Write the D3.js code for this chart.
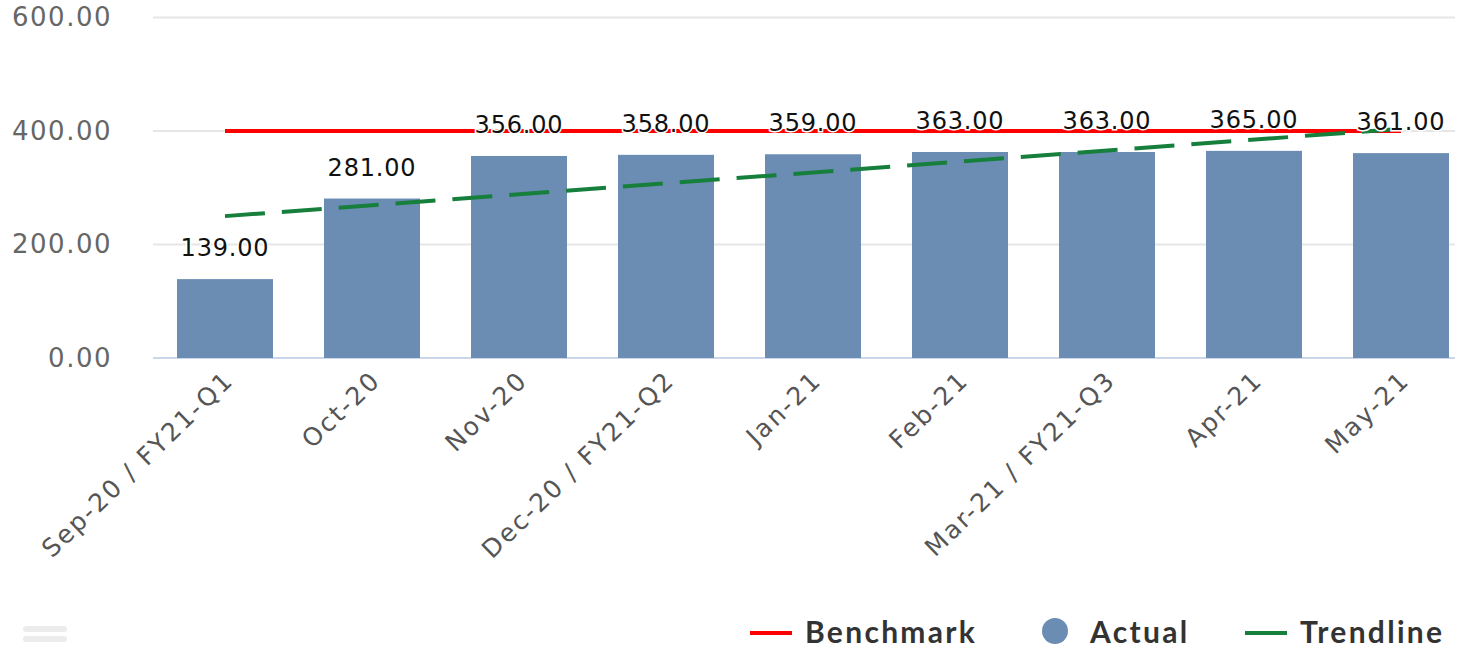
<!DOCTYPE html>
<html>
<head>
<meta charset="utf-8">
<script src="https://cdn.jsdelivr.net/npm/d3@7"></script>
<style>
  html, body { margin: 0; padding: 0; background: #fff; }
  svg { display: block; }
</style>
</head>
<body>
<div id="chart"></div>
<script>
const categories = ['Sep-20 / FY21-Q1', 'Oct-20', 'Nov-20', 'Dec-20 / FY21-Q2', 'Jan-21', 'Feb-21', 'Mar-21 / FY21-Q3', 'Apr-21', 'May-21'];
const actual = [139, 281, 356, 358, 359, 363, 363, 365, 361];
const benchmark = [400, 400, 400, 400, 400, 400, 400, 400, 400];
// trendline at first and last month
const trendline = [250, 404];
const yTicks = [0, 200, 400, 600];

const width = 1462;
const height = 648;

const svg = d3.select('#chart').append('svg')
  .attr('width', width)
  .attr('height', height);

const xScale = d3.scaleBand()
  .domain(categories)
  .range([151.5, 1474.5])
  .paddingInner(0.347)
  .paddingOuter(0.1735);

const yScale = d3.scaleLinear()
  .domain([0, 600])
  .range([358, 17.5]);

const cx = d => xScale(d) + xScale.bandwidth() / 2;

// grid
svg.append('g')
  .selectAll('line')
  .data(yTicks)
  .enter()
  .append('line')
  .attr('x1', 153)
  .attr('x2', 1455)
  .attr('y1', d => yScale(d))
  .attr('y2', d => yScale(d))
  .attr('stroke', d => d === 0 ? '#ccd6eb' : '#e6e6e6')
  .attr('stroke-width', 2);

// y axis labels
const yAxis = d3.axisLeft(yScale)
  .tickValues(yTicks)
  .tickFormat(d3.format('.2f'))
  .tickSize(0)
  .tickPadding(0);

svg.append('g')
  .attr('transform', 'translate(112, 0)')
  .call(yAxis)
  .call(g => g.select('.domain').remove())
  .selectAll('text')
  .attr('fill', '#666')
  .attr('font-family', 'DejaVu Sans, Verdana, sans-serif')
  .attr('font-size', 26)
  .attr('letter-spacing', 1.5);

// x axis labels
const xAxis = d3.axisBottom(xScale).tickSize(0).tickPadding(0);
svg.append('g')
  .attr('transform', 'translate(0, 358)')
  .call(xAxis)
  .call(g => g.select('.domain').remove())
  .selectAll('text')
  .attr('fill', '#555')
  .attr('font-family', 'DejaVu Sans, Verdana, sans-serif')
  .attr('font-size', 25)
  .attr('letter-spacing', 2.2)
  .attr('text-anchor', 'end')
  .attr('dy', 0)
  .attr('transform', 'translate(10, 24) rotate(-44)');

// bars
svg.append('g')
  .selectAll('rect')
  .data(actual)
  .enter()
  .append('rect')
  .attr('x', (d, i) => xScale(categories[i]))
  .attr('y', d => yScale(d))
  .attr('width', xScale.bandwidth())
  .attr('height', d => yScale(0) - yScale(d))
  .attr('fill', '#6b8cb3');

// benchmark line
const benchLine = d3.line()
  .x((d, i) => cx(categories[i]))
  .y(d => yScale(d));

svg.append('path')
  .datum(benchmark)
  .attr('d', benchLine)
  .attr('fill', 'none')
  .attr('stroke', '#ff0000')
  .attr('stroke-width', 4);

// trendline
const trendX = [categories[0], categories[categories.length - 1]];
svg.append('path')
  .datum(trendline)
  .attr('d', d3.line().x((d, i) => cx(trendX[i])).y(d => yScale(d)))
  .attr('fill', 'none')
  .attr('stroke', '#157f3b')
  .attr('stroke-width', 4)
  .attr('stroke-dasharray', '40 17');

// data labels
svg.append('g')
  .selectAll('text')
  .data(actual)
  .enter()
  .append('text')
  .attr('x', (d, i) => cx(categories[i]))
  .attr('y', d => yScale(d) - 31)
  .attr('text-anchor', 'middle')
  .attr('dominant-baseline', 'central')
  .attr('font-family', 'DejaVu Sans, Verdana, sans-serif')
  .attr('font-size', 24)
  .attr('letter-spacing', 0.8)
  .attr('fill', '#111')
  .attr('stroke', '#fff')
  .attr('stroke-width', 3)
  .attr('paint-order', 'stroke')
  .text(d => d3.format('.2f')(d));

// legend
const legend = svg.append('g')
  .attr('font-family', 'Lato, Open Sans, sans-serif')
  .attr('font-weight', 'bold')
  .attr('font-size', 30)
  .attr('letter-spacing', 2.3)
  .attr('fill', '#333');

legend.append('line')
  .attr('x1', 750).attr('x2', 792).attr('y1', 633).attr('y2', 633)
  .attr('stroke', '#ff0000').attr('stroke-width', 4);
legend.append('text').attr('x', 805).attr('y', 643).text('Benchmark');

legend.append('circle')
  .attr('cx', 1055).attr('cy', 631).attr('r', 13)
  .attr('fill', '#6b8cb3');
legend.append('text').attr('x', 1090).attr('y', 643).text('Actual');

legend.append('line')
  .attr('x1', 1245).attr('x2', 1287).attr('y1', 633).attr('y2', 633)
  .attr('stroke', '#157f3b').attr('stroke-width', 4);
legend.append('text').attr('x', 1300).attr('y', 643).text('Trendline');

// menu icon
svg.append('g')
  .selectAll('rect')
  .data([626, 636])
  .enter()
  .append('rect')
  .attr('x', 23).attr('y', d => d)
  .attr('width', 44).attr('height', 6).attr('rx', 3)
  .attr('fill', '#ececec');
</script>
</body>
</html>
